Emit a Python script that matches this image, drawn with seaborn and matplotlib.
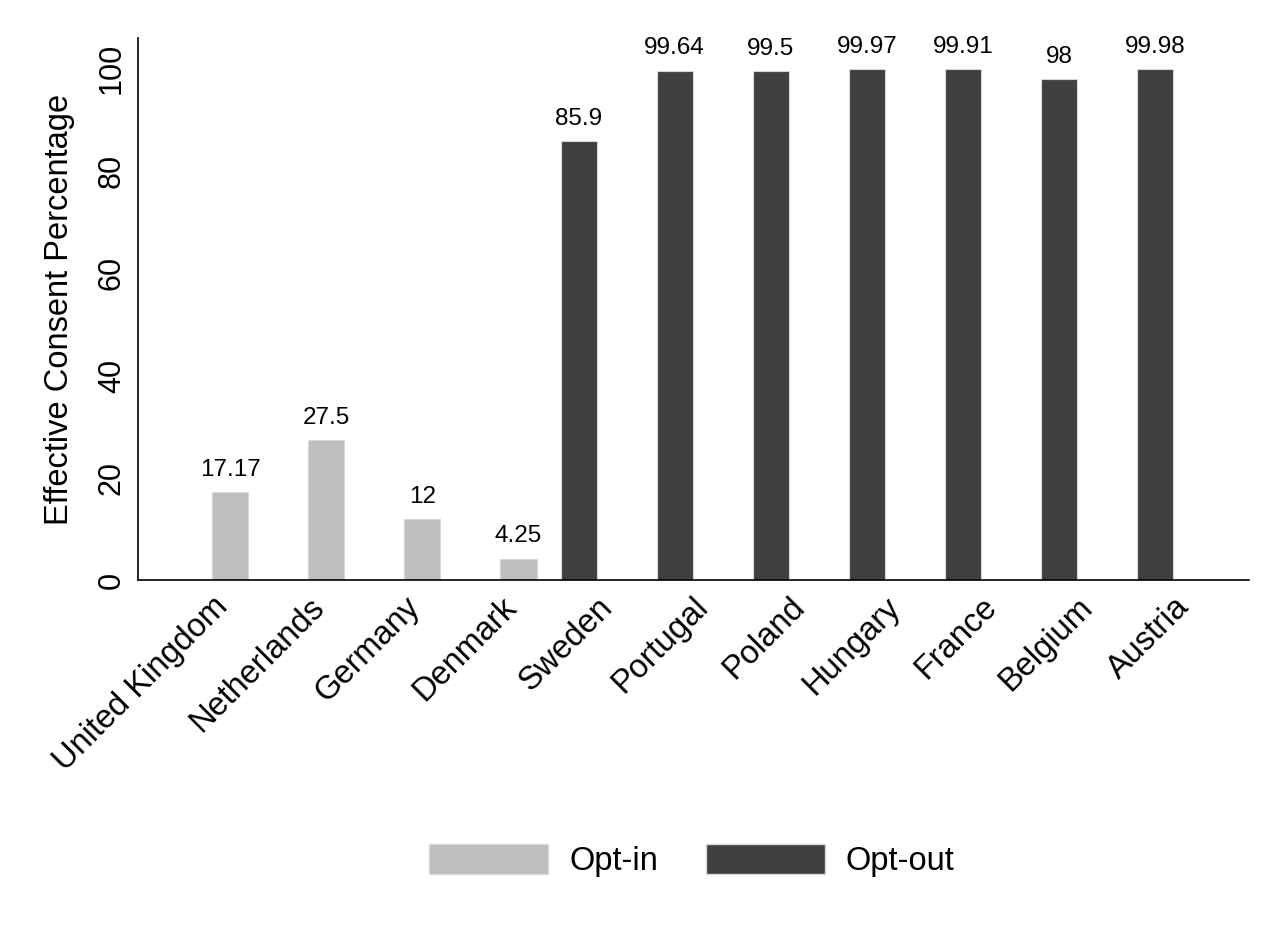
import matplotlib
matplotlib.use("Agg")
import matplotlib.pyplot as plt
import seaborn as sns
import pandas as pd
from matplotlib.patches import Patch

countries = ["United Kingdom", "Netherlands", "Germany", "Denmark", "Sweden",
             "Portugal", "Poland", "Hungary", "France", "Belgium", "Austria"]
consent = [17.17, 27.5, 12, 4.25, 85.9, 99.64, 99.5, 99.97, 99.91, 98, 99.98]
policy = ["Opt-in", "Opt-in", "Opt-in", "Opt-in", "Opt-out",
          "Opt-out", "Opt-out", "Opt-out", "Opt-out", "Opt-out", "Opt-out"]
yticks = [0, 20, 40, 60, 80, 100]

df = pd.DataFrame({"country": countries, "consent": consent, "policy": policy})

sns.set_theme(style="white")
plt.rcParams["font.family"] = ["Liberation Sans", "DejaVu Sans"]
plt.rcParams["text.color"] = "black"
plt.rcParams["xtick.color"] = "black"
plt.rcParams["ytick.color"] = "black"
plt.rcParams["axes.labelcolor"] = "black"

colors = {"Opt-in": "#BEBEBE", "Opt-out": "#404040"}

fig = plt.figure(figsize=(12.67, 9.27), dpi=100)
ax = fig.add_axes([0.109, 0.374, 0.877, 0.585])

sns.barplot(data=df, x="country", y="consent", hue="policy",
            order=countries, hue_order=["Opt-out", "Opt-in"],
            palette=colors, width=0.75, dodge=True, ax=ax,
            edgecolor="#d8d8d8", linewidth=0.8, errorbar=None)

for cont in ax.containers:
    ax.bar_label(cont, fmt="%g", padding=8, fontsize=17.5, color="black")

ax.set_xlim(-0.77, 10.79)
ax.set_ylim(0, 106)
ax.set_yticks(yticks)
ax.set_yticklabels([str(t) for t in yticks], rotation=90, va="center", fontsize=22)
ax.set_xticks(range(len(countries)))
ax.set_xticklabels(countries, rotation=45, ha="right", rotation_mode="anchor", fontsize=23.5)
ax.tick_params(axis="both", length=0, pad=8)
ax.set_xlabel("")
ax.set_ylabel("Effective Consent Percentage", fontsize=23.5, labelpad=16)

for side in ["top", "right"]:
    ax.spines[side].set_visible(False)
for side in ["left", "bottom"]:
    ax.spines[side].set_color("black")
    ax.spines[side].set_linewidth(1.2)

ax.get_legend().remove()
handles = [Patch(facecolor=colors["Opt-in"], edgecolor="#d8d8d8"),
           Patch(facecolor=colors["Opt-out"], edgecolor="#d8d8d8")]
fig.legend(handles, ["Opt-in", "Opt-out"], loc="center",
           bbox_to_anchor=(0.546, 0.072), ncol=2, frameon=False,
           fontsize=23.5, handlelength=3.65, handleheight=1.05,
           columnspacing=1.45, handletextpad=0.65)

fig.savefig("out.png", dpi=100, facecolor="white")
